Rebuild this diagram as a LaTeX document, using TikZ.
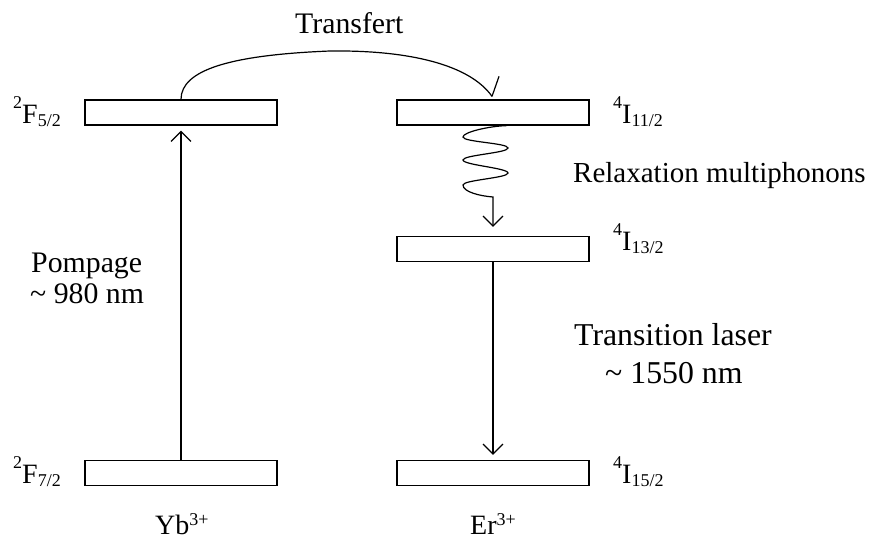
\documentclass[tikz,border=0pt]{standalone}
\usepackage{fontspec}
\setmainfont{Liberation Serif}
\usetikzlibrary{arrows.meta}
\newcommand\upidx[2][15pt]{\raisebox{#1}{\fontsize{18}{18}\selectfont #2}}
\newcommand\dnidx[1]{\raisebox{-3pt}{\fontsize{18}{18}\selectfont #1}}
\begin{document}
\begin{tikzpicture}[x=1pt,y=-1pt,
  level/.style={draw, line width=1.2pt, minimum width=192pt, minimum height=25pt, inner sep=0pt},
  lbl/.style={font=\fontsize{28}{30}\selectfont, inner sep=0pt, anchor=base west},
  txt/.style={font=\fontsize{29.8}{33}\selectfont, inner sep=0pt, anchor=base west},
  bigtxt/.style={font=\fontsize{31.8}{35}\selectfont, inner sep=0pt, anchor=base west},
  conn/.style={line width=1.2pt},
  tip/.style={-{Straight Barb[length=10pt,width=20pt]}}]
\useasboundingbox (0,0) rectangle (871,538);
% levels
\node[level] (yb5) at (181,112.5) {};
\node[level] (yb7) at (181,473) {};
\node[level] (er11) at (493,112.5) {};
\node[level] (er13) at (493,249) {};
\node[level] (er15) at (493,473) {};
% level labels
\node[lbl] (lyb5) at (13,123) {\upidx{2}F\dnidx{5/2}};
\node[lbl] (lyb7) at (13,483) {\upidx{2}F\dnidx{7/2}};
\node[lbl] (ler11) at (613,123) {\upidx{4}I\dnidx{11/2}};
\node[lbl] (ler13) at (613,250) {\upidx{4}I\dnidx{13/2}};
\node[lbl] (ler15) at (613,483) {\upidx{4}I\dnidx{15/2}};
% ion labels
\node[lbl] (yb) at (155,534) {Yb\upidx[9pt]{3+}};
\node[lbl] (er) at (470,534) {Er\upidx[9pt]{3+}};
% texts
\node[txt] (ttrans) at (295,33) {Transfert};
\node[txt] (tpomp) at (31,272) {Pompage};
\node[txt] (tpomp2) at (30,303) {\textasciitilde\ 980 nm};
\node[txt, font=\fontsize{29}{33}\selectfont] (trelax) at (573,182) {Relaxation multiphonons};
\node[bigtxt] (tlaser) at (574,345) {Transition laser};
\node[bigtxt] (tlaser2) at (605,383) {\textasciitilde\ 1550 nm};
% pump
\draw[conn,tip] (yb7.north) -- ([yshift=-5pt]yb5.south);
% laser
\draw[conn,tip] (er13.south) -- ([yshift=5pt]er15.north);
% transfer
\coordinate (ttip) at ([xshift=-1pt,yshift=3pt]er11.north);
\draw[conn] (yb5.north) .. controls (181,70) and (230,55) .. (330,51)
  .. controls (410,50) and (470,65) .. (ttip);
\draw[conn] (ttip) -- ++(7,-20);
% relaxation wiggle
\coordinate (wstart) at ([xshift=14pt]er11.south);
\coordinate (wtip) at ([yshift=9pt]er13.north);
\draw[conn,tip] (wstart) .. controls (490,126) and (463,132) .. (463,137)
  .. controls (463,142) and (508,143) .. (508,148)
  .. controls (508,153) and (463,155) .. (463,160)
  .. controls (463,165) and (508,168) .. (508,173)
  .. controls (508,178) and (463,180) .. (463,185)
  .. controls (463,192) and (480,196) .. (493,197)
  -- (wtip);
\end{tikzpicture}
\end{document}
